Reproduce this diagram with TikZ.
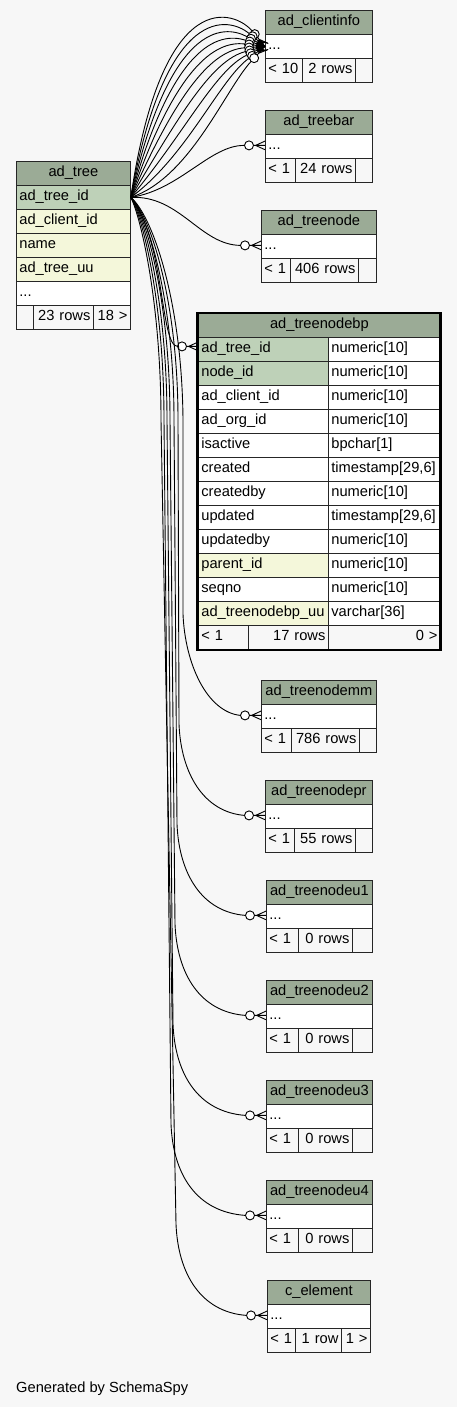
\documentclass[tikz,border=0pt]{standalone}
\usepackage{fontspec}
\setmainfont{Liberation Sans}
\usetikzlibrary{calc}
\definecolor{bgc}{HTML}{F7F7F7}
\definecolor{hdrc}{HTML}{9BAB96}
\definecolor{pkc}{HTML}{BED1B8}
\definecolor{idxc}{HTML}{F4F7DA}
\tikzset{
  cell/.style={draw=black!85, line width=0.8pt, rectangle, inner xsep=3pt, inner ysep=0pt,
    minimum height=24pt, text height=10.5pt, text depth=3.5pt, anchor=north west,
    font=\fontsize{14.67pt}{17pt}\selectfont},
  edge/.style={draw=black, line width=0.9pt},
  label/.style={font=\fontsize{14.67pt}{17pt}\selectfont, inner sep=0pt},
}
\newcommand\tcell[7]{%
  \pgfmathsetmacro\tcw{#4-6}%
  \node[cell, fill=#5, text width=\tcw pt, align=#6] (#1) at (#2,#3) {#7};}
\newcommand\crowo[2]{%
  \pgfmathsetmacro\angp{#2+90}%
  \pgfmathsetmacro\angm{#2-90}%
  \draw[edge] ($(#1)+(#2:9.5)$) -- ($(#1)+(\angp:4.3)$)
              ($(#1)+(#2:9.5)$) -- (#1)
              ($(#1)+(#2:9.5)$) -- ($(#1)+(\angm:4.3)$)
              ($(#1)+(#2:11.5)$) -- ($(#1)+(#2:9.5)$);
  \draw[edge, fill=white] ($(#1)+(#2:16)$) circle[radius=4.5];}
\begin{document}
\begin{tikzpicture}[x=1pt,y=-1pt]
\fill[bgc] (0,0) rectangle (457,1407);
\useasboundingbox (0,0) rectangle (457,1407);

% ad_tree
\tcell{t-h}{16}{161}{114}{hdrc}{center}{ad\_tree}
\tcell{tid}{16}{185}{114}{pkc}{left}{ad\_tree\_id}
\tcell{t-c}{16}{209}{114}{idxc}{left}{ad\_client\_id}
\tcell{t-n}{16}{233}{114}{idxc}{left}{name}
\tcell{t-u}{16}{257}{114}{idxc}{left}{ad\_tree\_uu}
\tcell{t-r}{16}{281}{114}{white}{left}{...}
\tcell{t-f1}{16}{305}{17}{bgc}{left}{}
\tcell{t-f2}{33}{305}{60}{bgc}{right}{23 rows}
\tcell{t-f3}{93}{305}{37}{bgc}{right}{18 >}

% ad_clientinfo
\tcell{ci-h}{265}{10}{107}{hdrc}{center}{ad\_clientinfo}
\tcell{ci-r}{265}{34}{107}{white}{left}{...}
\tcell{ci-f1}{265}{58}{37}{bgc}{left}{< 10}
\tcell{ci-f2}{302}{58}{53}{bgc}{right}{2 rows}
\tcell{ci-f3}{355}{58}{17}{bgc}{left}{}

% ad_treebar
\tcell{tb-h}{265}{110}{107}{hdrc}{center}{ad\_treebar}
\tcell{tb-r}{265}{134}{107}{white}{left}{...}
\tcell{tb-f1}{265}{158}{30}{bgc}{left}{< 1}
\tcell{tb-f2}{295}{158}{60}{bgc}{right}{24 rows}
\tcell{tb-f3}{355}{158}{17}{bgc}{left}{}

% ad_treenode
\tcell{tn-h}{261}{210}{115}{hdrc}{center}{ad\_treenode}
\tcell{tn-r}{261}{234}{115}{white}{left}{...}
\tcell{tn-f1}{261}{258}{29}{bgc}{left}{< 1}
\tcell{tn-f2}{290}{258}{68}{bgc}{right}{406 rows}
\tcell{tn-f3}{358}{258}{18}{bgc}{left}{}

% ad_treenodebp
\tcell{bp-h}{198}{313}{242}{hdrc}{center}{ad\_treenodebp}
\tcell{bp-a1}{198}{337}{130}{pkc}{left}{ad\_tree\_id}
\tcell{bp-a2}{328}{337}{112}{white}{left}{numeric[10]}
\tcell{bp-b1}{198}{361}{130}{pkc}{left}{node\_id}
\tcell{bp-b2}{328}{361}{112}{white}{left}{numeric[10]}
\tcell{bp-c1}{198}{385}{130}{white}{left}{ad\_client\_id}
\tcell{bp-c2}{328}{385}{112}{white}{left}{numeric[10]}
\tcell{bp-d1}{198}{409}{130}{white}{left}{ad\_org\_id}
\tcell{bp-d2}{328}{409}{112}{white}{left}{numeric[10]}
\tcell{bp-e1}{198}{433}{130}{white}{left}{isactive}
\tcell{bp-e2}{328}{433}{112}{white}{left}{bpchar[1]}
\tcell{bp-f1}{198}{457}{130}{white}{left}{created}
\tcell{bp-f2}{328}{457}{112}{white}{left}{timestamp[29,6]}
\tcell{bp-g1}{198}{481}{130}{white}{left}{createdby}
\tcell{bp-g2}{328}{481}{112}{white}{left}{numeric[10]}
\tcell{bp-h1}{198}{505}{130}{white}{left}{updated}
\tcell{bp-h2}{328}{505}{112}{white}{left}{timestamp[29,6]}
\tcell{bp-i1}{198}{529}{130}{white}{left}{updatedby}
\tcell{bp-i2}{328}{529}{112}{white}{left}{numeric[10]}
\tcell{bp-j1}{198}{553}{130}{idxc}{left}{parent\_id}
\tcell{bp-j2}{328}{553}{112}{white}{left}{numeric[10]}
\tcell{bp-k1}{198}{577}{130}{white}{left}{seqno}
\tcell{bp-k2}{328}{577}{112}{white}{left}{numeric[10]}
\tcell{bp-l1}{198}{601}{130}{idxc}{left}{ad\_treenodebp\_uu}
\tcell{bp-l2}{328}{601}{112}{white}{left}{varchar[36]}
\tcell{bp-f1x}{198}{625}{50}{bgc}{left}{< 1}
\tcell{bp-f2x}{248}{625}{80}{bgc}{right}{17 rows}
\tcell{bp-f3x}{328}{625}{112}{bgc}{right}{0 >}
\draw[line width=2.6pt, black] (197.3,313) rectangle (440.5,650);

% ad_treenodemm
\tcell{mm-h}{261}{680}{115}{hdrc}{center}{ad\_treenodemm}
\tcell{mm-r}{261}{704}{115}{white}{left}{...}
\tcell{mm-f1}{261}{728}{30}{bgc}{left}{< 1}
\tcell{mm-f2}{291}{728}{68}{bgc}{right}{786 rows}
\tcell{mm-f3}{359}{728}{17}{bgc}{left}{}

% ad_treenodepr
\tcell{pr-h}{265}{780}{107}{hdrc}{center}{ad\_treenodepr}
\tcell{pr-r}{265}{804}{107}{white}{left}{...}
\tcell{pr-f1}{265}{828}{29}{bgc}{left}{< 1}
\tcell{pr-f2}{294}{828}{61}{bgc}{right}{55 rows}
\tcell{pr-f3}{355}{828}{17}{bgc}{left}{}

% ad_treenodeu1..u4
\tcell{u1-h}{266}{880}{106}{hdrc}{center}{ad\_treenodeu1}
\tcell{u1-r}{266}{904}{106}{white}{left}{...}
\tcell{u1-f1}{266}{928}{32}{bgc}{left}{< 1}
\tcell{u1-f2}{298}{928}{54}{bgc}{right}{0 rows}
\tcell{u1-f3}{352}{928}{20}{bgc}{left}{}

\tcell{u2-h}{266}{980}{106}{hdrc}{center}{ad\_treenodeu2}
\tcell{u2-r}{266}{1004}{106}{white}{left}{...}
\tcell{u2-f1}{266}{1028}{32}{bgc}{left}{< 1}
\tcell{u2-f2}{298}{1028}{54}{bgc}{right}{0 rows}
\tcell{u2-f3}{352}{1028}{20}{bgc}{left}{}

\tcell{u3-h}{266}{1080}{106}{hdrc}{center}{ad\_treenodeu3}
\tcell{u3-r}{266}{1104}{106}{white}{left}{...}
\tcell{u3-f1}{266}{1128}{32}{bgc}{left}{< 1}
\tcell{u3-f2}{298}{1128}{54}{bgc}{right}{0 rows}
\tcell{u3-f3}{352}{1128}{20}{bgc}{left}{}

\tcell{u4-h}{266}{1180}{106}{hdrc}{center}{ad\_treenodeu4}
\tcell{u4-r}{266}{1204}{106}{white}{left}{...}
\tcell{u4-f1}{266}{1228}{32}{bgc}{left}{< 1}
\tcell{u4-f2}{298}{1228}{54}{bgc}{right}{0 rows}
\tcell{u4-f3}{352}{1228}{20}{bgc}{left}{}

% c_element
\tcell{ce-h}{267}{1280}{103}{hdrc}{center}{c\_element}
\tcell{ce-r}{267}{1304}{103}{white}{left}{...}
\tcell{ce-f1}{267}{1328}{28}{bgc}{left}{< 1}
\tcell{ce-f2}{295}{1328}{46}{bgc}{right}{1 row}
\tcell{ce-f3}{341}{1328}{29}{bgc}{right}{1 >}

\node[label, anchor=base west] (gen) at (16,1392) {Generated by SchemaSpy};

% ports
\coordinate (cip) at (ci-r.west);
\coordinate (barp) at ([yshift=1pt]tb-r.west);
\coordinate (tnp) at ([yshift=1pt]tn-r.west);
\coordinate (bpp) at ([yshift=3pt]bp-a1.west);
\coordinate (mmp) at ([yshift=1pt]mm-r.west);
\coordinate (prp) at ([yshift=1pt]pr-r.west);
\coordinate (u1p) at ([yshift=1pt]u1-r.west);
\coordinate (u2p) at ([yshift=1pt]u2-r.west);
\coordinate (u3p) at ([yshift=1pt]u3-r.west);
\coordinate (u4p) at ([yshift=1pt]u4-r.west);
\coordinate (cep) at ([yshift=1pt]ce-r.west);

% edges to ad_clientinfo
\foreach \i in {0,...,9}{
  \pgfmathsetmacro\ang{230-10.8*\i}
  \pgfmathsetmacro\ax{163+3*\i}
  \pgfmathsetmacro\ay{-20+22*\i}
  \pgfmathsetmacro\cl{45+1.5*\i}
  \draw[edge] (tid.east) .. controls (\ax,\ay) and ($(cip)+(\ang:\cl)$) .. ($(cip)+(\ang:20.5)$);
  \crowo{cip}{\ang}
}

% edges to ad_treebar, ad_treenode, ad_treenodebp
\draw[edge] (tid.east) .. controls (180,190) and (210,145) .. ($(barp)+(180:20.5)$);
\crowo{barp}{180}
\draw[edge] (tid.east) .. controls (180,195) and (200,245) .. ($(tnp)+(180:20.5)$);
\crowo{tnp}{180}
\draw[edge] (tid.east) .. controls (165,240) and (160,346) .. ($(bpp)+(180:20.5)$);
\crowo{bpp}{180}

% bundle edges
\draw[edge] (tid.east) .. controls (152,215) and (182,300) .. (183,420) -- (183,614)
  .. controls (185,664) and (207,712) .. ($(mmp)+(180:20.5)$);
\crowo{mmp}{180}
\draw[edge] (tid.east) .. controls (150,215) and (178,300) .. (178,420) -- (179,724)
  .. controls (181,774) and (204,812) .. ($(prp)+(180:20.5)$);
\crowo{prp}{180}
\draw[edge] (tid.east) .. controls (148,215) and (174,300) .. (174,420) -- (177,824)
  .. controls (179,874) and (202,912) .. ($(u1p)+(180:20.5)$);
\crowo{u1p}{180}
\draw[edge] (tid.east) .. controls (146,215) and (170,300) .. (170,420) -- (175,924)
  .. controls (177,974) and (200,1012) .. ($(u2p)+(180:20.5)$);
\crowo{u2p}{180}
\draw[edge] (tid.east) .. controls (144,215) and (167,300) .. (167,420) -- (173,1024)
  .. controls (175,1074) and (198,1112) .. ($(u3p)+(180:20.5)$);
\crowo{u3p}{180}
\draw[edge] (tid.east) .. controls (142,215) and (164,300) .. (164,420) -- (171,1124)
  .. controls (173,1174) and (196,1212) .. ($(u4p)+(180:20.5)$);
\crowo{u4p}{180}
\draw[edge] (tid.east) .. controls (140,215) and (161,300) .. (161,420) -- (176,1224)
  .. controls (178,1274) and (201,1312) .. ($(cep)+(180:20.5)$);
\crowo{cep}{180}
\end{tikzpicture}
\end{document}
